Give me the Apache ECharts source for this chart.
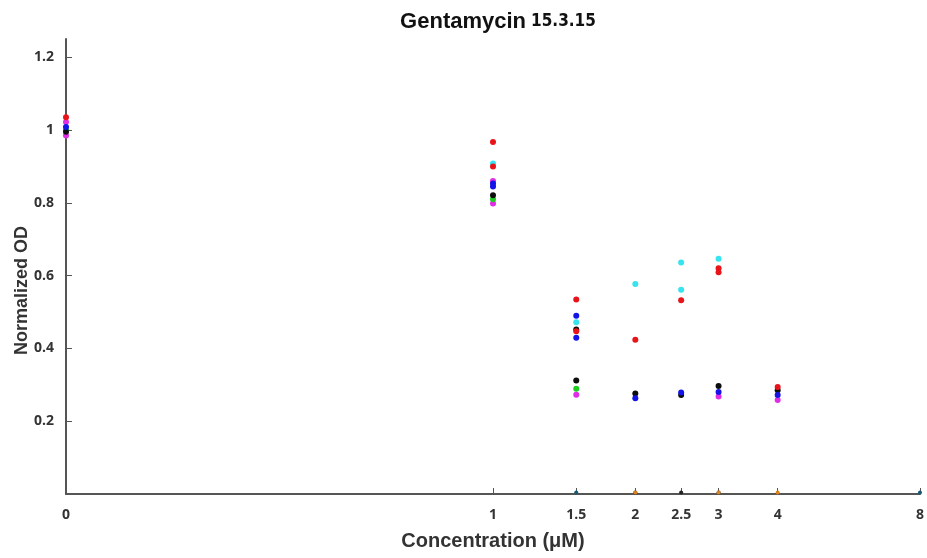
<!DOCTYPE html>
<html>
<head>
<meta charset="utf-8">
<script src="https://cdn.jsdelivr.net/npm/echarts@6/dist/echarts.min.js"></script>
<style>
  html, body { margin: 0; padding: 0; background: #ffffff; }
  #chart { width: 927px; height: 558px; }
</style>
</head>
<body>
<div id="chart"></div>
<script>
// Concentration ticks (µM); the zero dose is placed at 1/8 on the log axis
const concTicks = [0, 1, 1.5, 2, 2.5, 3, 4, 8];
const ZERO_POS = 0.125;
const odTicks = [0.2, 0.4, 0.6, 0.8, 1, 1.2];

// Normalized OD readings, grouped by marker colour: [concentration, OD]
const redPts = [[0, 1.035], [1, 0.967], [1, 0.900], [1.5, 0.534], [1.5, 0.447], [2, 0.424], [2.5, 0.532], [3, 0.620], [3, 0.609], [4, 0.294]];
const cyanPts = [[1, 0.908], [1.5, 0.472], [2, 0.577], [2.5, 0.636], [2.5, 0.561], [3, 0.646]];
const bluePts = [[0, 1.008], [1, 0.853], [1, 0.845], [1.5, 0.490], [1.5, 0.429], [2, 0.263], [2.5, 0.279], [3, 0.280], [4, 0.272]];
const blackPts = [[0, 0.995], [1, 0.821], [1.5, 0.452], [1.5, 0.312], [2, 0.276], [2.5, 0.272], [3, 0.297], [4, 0.285]];
const greenPts = [[0, 1.000], [1, 0.810], [1.5, 0.289]];
const magentaPts = [[0, 1.022], [0, 0.985], [1, 0.860], [1, 0.798], [1.5, 0.273], [3, 0.268], [4, 0.258]];
// Wells that read essentially zero
const tealZero = [[1.5, 0.004], [8, 0.004]];
const darkZero = [[2, 0.004], [2.5, 0.004], [3, 0.004]];
const orangeZero = [[2, 0.004], [3, 0.004], [4, 0.004]];

const toAxis = c => (c === 0 ? ZERO_POS : c);
const place = pts => pts.map(p => [toAxis(p[0]), p[1]]);

const groups = [
  { name: 'magenta', color: '#e02ee6', pts: magentaPts, size: 6 },
  { name: 'green', color: '#1fcc1f', pts: greenPts, size: 6 },
  { name: 'black', color: '#0d0d0d', pts: blackPts, size: 6 },
  { name: 'blue', color: '#1414e6', pts: bluePts, size: 6 },
  { name: 'cyan', color: '#35e4ee', pts: cyanPts, size: 6 },
  { name: 'red', color: '#e8141a', pts: redPts, size: 6 },
  { name: 'teal0', color: '#145a78', pts: tealZero, size: 4 },
  { name: 'dark0', color: '#222222', pts: darkZero, size: 4 },
  { name: 'orange0', color: '#d9831f', pts: orangeZero, size: 4 }
];

const axisColor = '#555555';
const labelFont = { fontFamily: 'Open Sans', fontWeight: 'bold', fontSize: 14, color: '#333333' };

const chart = echarts.init(document.getElementById('chart'), null, { renderer: 'canvas' });
chart.setOption({
  animation: false,
  backgroundColor: '#ffffff',
  title: {
    text: '{a|Gentamycin} {b|15.3.15}',
    left: 493,
    textAlign: 'center',
    top: 6,
    textStyle: {
      rich: {
        a: { fontFamily: 'Liberation Sans', fontWeight: 'bold', fontSize: 22, color: '#111111' },
        b: { fontFamily: 'DejaVu Sans Condensed', fontWeight: 'bold', fontSize: 17, color: '#111111' }
      }
    }
  },
  grid: { left: 66, right: 6, top: 39, bottom: 64 },
  xAxis: {
    type: 'log',
    logBase: 2,
    min: ZERO_POS,
    max: 8,
    name: 'Concentration (μM)',
    nameLocation: 'middle',
    nameGap: 37,
    nameTextStyle: { fontFamily: 'Liberation Sans', fontWeight: 'bold', fontSize: 20, color: '#333333' },
    axisLine: { lineStyle: { color: axisColor, width: 2 } },
    axisTick: { inside: true, length: 6, lineStyle: { color: axisColor, width: 1 }, customValues: concTicks.map(toAxis) },
    axisLabel: Object.assign({
      margin: 14,
      customValues: concTicks.map(toAxis),
      formatter: v => (Math.abs(v - ZERO_POS) < 1e-9 ? '0' : String(+v.toFixed(2)))
    }, labelFont),
    splitLine: { show: false },
    minorTick: { show: false }
  },
  yAxis: {
    type: 'value',
    min: 0,
    max: 1.25,
    axisLine: { show: true, lineStyle: { color: axisColor, width: 2 } },
    axisTick: { show: true, inside: true, length: 6, lineStyle: { color: axisColor, width: 1 }, customValues: odTicks },
    axisLabel: Object.assign({ margin: 12, customValues: odTicks, formatter: v => String(+v.toFixed(2)) }, labelFont),
    splitLine: { show: false }
  },
  graphic: [{
    type: 'text',
    left: 13,
    top: 226,
    rotation: Math.PI / 2,
    style: {
      text: 'Normalized OD',
      font: 'bold 18px "Liberation Sans"',
      fill: '#333333'
    }
  }],
  series: groups.map(g => ({
    type: 'scatter',
    name: g.name,
    data: place(g.pts),
    symbol: 'circle',
    symbolSize: g.size,
    itemStyle: { color: g.color, opacity: 1 },
    clip: false
  }))
});
</script>
</body>
</html>
